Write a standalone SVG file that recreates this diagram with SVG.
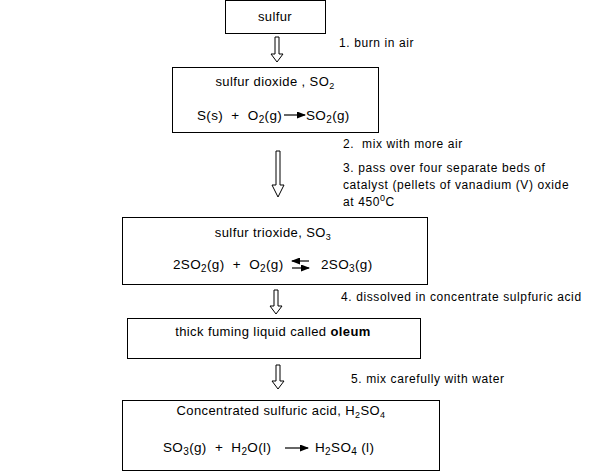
<svg xmlns="http://www.w3.org/2000/svg" width="616" height="472" viewBox="0 0 616 472">
<style>
.box{fill:#fff;stroke:#000;stroke-width:1}
.t{font-family:"Liberation Sans",Arial,sans-serif;font-size:12px;letter-spacing:0.6px;fill:#000}
.h{font-family:"Liberation Sans",Arial,sans-serif;font-size:13px;letter-spacing:0.4px;fill:#000}
.e{font-family:"Liberation Sans",Arial,sans-serif;font-size:13.5px;letter-spacing:0.35px;fill:#000}
.s{font-size:9px}
.es{font-size:10px}
.ha{fill:#fff;stroke:#000;stroke-width:1}
.ln{stroke:#000;stroke-width:1.2;fill:none}
</style>
<defs>
<marker id="ah" markerWidth="9" markerHeight="7" refX="8" refY="3.5" orient="auto" markerUnits="userSpaceOnUse">
<path d="M0,0 L9,3.5 L0,7 z" fill="#000"/>
</marker>
</defs>
<rect width="616" height="472" fill="#fff"/>
<g id="n1">
<rect class="box" x="225.5" y="0.5" width="100" height="33"/>
<text class="h" x="275" y="21" text-anchor="middle">sulfur</text>
</g>
<g id="n2">
<rect class="box" x="172.5" y="67.5" width="206" height="65"/>
<text class="h" x="275" y="86" text-anchor="middle">sulfur dioxide , SO<tspan class="s" dy="3">2</tspan></text>
<text class="e" x="197" y="120" xml:space="preserve">S(s)  +  O<tspan class="es" dy="3">2</tspan><tspan dy="-3">(g)</tspan></text>
<text class="e" x="306" y="120">SO<tspan class="es" dy="3">2</tspan><tspan dy="-3">(g)</tspan></text>
</g>
<g id="n3">
<rect class="box" x="122.5" y="217.5" width="305" height="67"/>
<text class="h" x="273" y="237" text-anchor="middle">sulfur trioxide, SO<tspan class="s" dy="3">3</tspan></text>
<text class="e" x="173" y="269" xml:space="preserve">2SO<tspan class="es" dy="3">2</tspan><tspan dy="-3">(g)  +  O</tspan><tspan class="es" dy="3">2</tspan><tspan dy="-3">(g)</tspan></text>
<text class="e" x="321" y="269">2SO<tspan class="es" dy="3">3</tspan><tspan dy="-3">(g)</tspan></text>
</g>
<g id="n4">
<rect class="box" x="127.5" y="318.5" width="293" height="40"/>
<text class="h" x="273" y="336" text-anchor="middle">thick fuming liquid called <tspan font-weight="bold">oleum</tspan></text>
</g>
<g id="n5">
<rect class="box" x="122.5" y="400.5" width="317" height="70"/>
<text class="h" x="281" y="415" text-anchor="middle">Concentrated sulfuric acid, H<tspan class="s" dy="3">2</tspan><tspan dy="-3">SO</tspan><tspan class="s" dy="3">4</tspan></text>
<text class="e" x="163" y="452" xml:space="preserve">SO<tspan class="es" dy="3">3</tspan><tspan dy="-3">(g)  +  H</tspan><tspan class="es" dy="3">2</tspan><tspan dy="-3">O(l)</tspan></text>
<text class="e" x="315" y="452">H<tspan class="es" dy="3">2</tspan><tspan dy="-3">SO</tspan><tspan class="es" dy="3">4</tspan><tspan dy="-3"> (l)</tspan></text>
</g>
<g id="labels">
<text class="t" x="339" y="47">1. burn in air</text>
<text class="t" x="343" y="148" xml:space="preserve">2.  mix with more air</text>
<text class="t" x="343" y="172">3. pass over four separate beds of</text>
<text class="t" x="343" y="189">catalyst (pellets of vanadium (V) oxide</text>
<text class="t" x="343" y="206">at 450<tspan class="s" dy="-5">0</tspan><tspan dy="5">C</tspan></text>
<text class="t" x="341" y="301">4. dissolved in concentrate sulpfuric acid</text>
<text class="t" x="351" y="383">5. mix carefully with water</text>
</g>
<g id="connectors">
<polygon class="ha" points="275,37 279,37 279,54 283,54 277,62 271,54 275,54"/>
<polygon class="ha" points="276,151 280,151 280,185 284,185 278,197 272,185 276,185"/>
<polygon class="ha" points="274,290 278,290 278,306 282,306 276,314 270,306 274,306"/>
<polygon class="ha" points="276,365 280,365 280,381 284,381 278,389 272,381 276,381"/>
<line class="ln" x1="284" y1="115" x2="305" y2="115" marker-end="url(#ah)"/>
<line class="ln" x1="309" y1="261" x2="292" y2="261" marker-end="url(#ah)"/>
<line class="ln" x1="292" y1="268" x2="309" y2="268" marker-end="url(#ah)"/>
<line class="ln" x1="285" y1="448" x2="308" y2="448" marker-end="url(#ah)"/>
</g>
</svg>
